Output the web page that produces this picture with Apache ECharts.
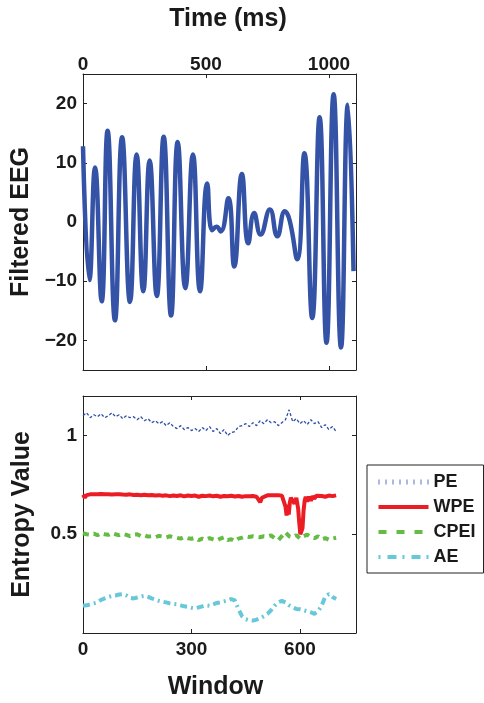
<!DOCTYPE html>
<html><head><meta charset="utf-8">
<script src="https://cdn.jsdelivr.net/npm/echarts@6/dist/echarts.min.js"></script>
<style>html,body{margin:0;padding:0;background:#fff}#c{width:484px;height:703px}</style>
</head><body><div id="c"></div>
<script>
// ---- Top panel: filtered EEG (extrema) ----
const eegTimeMs = [0,26,49,76,100,130,159,191,218,245,271,300,328,358,385,416,447,476,505,525,543,560,591,615,646,672,696,722,760,790,821,840,871,900,932,962,990,1019,1049,1077,1100];
const eegValue  = [12.8,-9.8,9.2,-13.4,15.4,-16.6,14.3,-13.5,11.4,-11.7,10.4,-12.5,14.4,-15.8,13.5,-11.2,11.4,-11.7,6.5,-1.4,-0.8,-1.6,4.0,-7.5,8.1,-3.6,1.5,-2.1,2.1,-2.4,1.8,0.3,-6.3,11.6,-16.2,17.7,-20.4,21.6,-21.2,19.8,-8.3];
const timeTicks = [0,500,1000];
const eegTicks = [-20,-10,0,10,20];

// ---- Bottom panel: entropy values per window ----
const windows = Array.from({length:71},(_,i)=>i*10);
const peValue = [1.10,1.115,1.09,1.105,1.095,1.11,1.09,1.10,1.115,1.095,1.105,1.085,1.10,1.09,1.095,1.08,1.095,1.075,1.085,1.065,1.075,1.06,1.07,1.05,1.065,1.045,1.035,1.05,1.03,1.04,1.025,1.035,1.02,1.04,1.025,1.045,1.02,1.035,1.01,1.03,1.0,1.015,1.02,1.045,1.05,1.06,1.045,1.065,1.05,1.075,1.06,1.08,1.065,1.07,1.05,1.065,1.08,1.13,1.07,1.085,1.06,1.075,1.055,1.08,1.06,1.07,1.04,1.055,1.03,1.045,1.02];
const cpeiValue = [0.505,0.50,0.498,0.503,0.495,0.505,0.50,0.497,0.506,0.50,0.495,0.502,0.497,0.49,0.498,0.50,0.49,0.495,0.488,0.49,0.485,0.492,0.488,0.484,0.49,0.485,0.482,0.478,0.486,0.48,0.477,0.482,0.47,0.478,0.472,0.48,0.474,0.468,0.478,0.485,0.47,0.475,0.465,0.478,0.483,0.49,0.486,0.49,0.488,0.485,0.49,0.488,0.494,0.48,0.47,0.49,0.51,0.49,0.485,0.495,0.478,0.49,0.498,0.486,0.48,0.49,0.475,0.48,0.472,0.478,0.482];
const aeValue = [0.138,0.14,0.145,0.15,0.155,0.168,0.175,0.182,0.188,0.19,0.195,0.197,0.19,0.178,0.175,0.18,0.185,0.188,0.183,0.175,0.17,0.163,0.158,0.155,0.15,0.147,0.145,0.14,0.135,0.133,0.128,0.125,0.13,0.135,0.14,0.138,0.145,0.152,0.155,0.16,0.165,0.172,0.165,0.12,0.085,0.07,0.064,0.063,0.068,0.075,0.085,0.097,0.115,0.138,0.155,0.163,0.155,0.14,0.13,0.122,0.12,0.115,0.11,0.105,0.097,0.11,0.138,0.185,0.197,0.182,0.172];
const wpeWindow = [0,5,10,20,30,40,50,60,70,80,90,100,110,120,130,140,150,160,170,180,190,200,210,220,230,240,250,260,270,280,290,300,310,320,330,340,350,360,370,380,390,400,410,420,430,440,450,460,470,480,485,490,495,500,510,520,530,540,550,555,560,563,566,569,572,575,580,585,590,595,598,601,604,607,610,613,616,620,625,630,635,640,645,650,660,670,680,690,700];
const wpeValue = [0.700,0.685,0.698,0.702,0.703,0.702,0.704,0.702,0.703,0.701,0.702,0.703,0.701,0.700,0.702,0.699,0.700,0.698,0.700,0.697,0.699,0.696,0.698,0.695,0.697,0.693,0.696,0.694,0.697,0.692,0.696,0.694,0.696,0.690,0.695,0.693,0.696,0.692,0.695,0.690,0.694,0.692,0.695,0.691,0.694,0.690,0.693,0.692,0.694,0.690,0.680,0.662,0.685,0.695,0.697,0.698,0.697,0.698,0.695,0.690,0.640,0.595,0.650,0.600,0.660,0.685,0.690,0.655,0.685,0.630,0.560,0.500,0.490,0.530,0.620,0.670,0.690,0.665,0.690,0.670,0.692,0.680,0.695,0.685,0.694,0.690,0.696,0.693,0.697];
const windowTicks = [0,300,600];
const entropyTicks = [0.5,1];

const zip = (xs, ys) => xs.map((x,i)=>[x, ys[i]]);
const FONT = 'Liberation Sans, Arial, Helvetica, sans-serif';
const TXT = '#1a1a1a';
const minus = v => String(v).replace('-', '\u2212');
const axisLineS = {show:true, onZero:false, lineStyle:{color:'#222', width:1}};
function tick(vals){ return {show:true, inside:true, length:4, customValues:vals, lineStyle:{color:'#222'}}; }
function lab(vals, margin){ return {show:true, customValues:vals, margin:margin, color:TXT, fontSize:19, fontWeight:'bold', fontFamily:FONT, formatter:minus}; }
const nameS = (pad) => ({color:TXT, fontSize:25, fontWeight:'bold', fontFamily:FONT, padding:pad});
const noSym = {opacity:0};

const chart = echarts.init(document.getElementById('c'), null, {renderer:'canvas'});
chart.setOption({
  backgroundColor:'#fff',
  animation:false,
  grid:[
    {left:83, top:74, width:273, height:296},
    {left:83, top:396, width:273, height:237}
  ],
  xAxis:[
    {gridIndex:0, type:'value', position:'top', min:0, max:1110, axisLine:axisLineS, axisTick:tick(timeTicks), axisLabel:lab(timeTicks,0), splitLine:{show:false},
     name:'Time (ms)', nameLocation:'middle', nameGap:42, nameTextStyle:nameS([0,0,0,17])},
    {gridIndex:0, type:'value', position:'bottom', min:0, max:1110, axisLine:axisLineS, axisTick:tick(timeTicks), axisLabel:{show:false}, splitLine:{show:false}},
    {gridIndex:1, type:'value', position:'bottom', min:0, max:755, axisLine:axisLineS, axisTick:tick(windowTicks), axisLabel:lab(windowTicks,7), splitLine:{show:false},
     name:'Window', nameLocation:'middle', nameGap:42, nameTextStyle:nameS([0,8,0,0])},
    {gridIndex:1, type:'value', position:'top', min:0, max:755, axisLine:axisLineS, axisTick:tick(windowTicks), axisLabel:{show:false}, splitLine:{show:false}}
  ],
  yAxis:[
    {gridIndex:0, type:'value', position:'left', min:-25, max:25, axisLine:axisLineS, axisTick:tick(eegTicks), axisLabel:lab(eegTicks,6), splitLine:{show:false},
     name:'Filtered EEG', nameLocation:'middle', nameGap:48, nameTextStyle:nameS(0)},
    {gridIndex:0, type:'value', position:'right', min:-25, max:25, axisLine:axisLineS, axisTick:tick(eegTicks), axisLabel:{show:false}, splitLine:{show:false}},
    {gridIndex:1, type:'value', position:'left', min:0, max:1.2, axisLine:axisLineS, axisTick:tick(entropyTicks), axisLabel:lab(entropyTicks,6), splitLine:{show:false},
     name:'Entropy Value', nameLocation:'middle', nameGap:48, nameTextStyle:nameS(0)},
    {gridIndex:1, type:'value', position:'right', min:0, max:1.2, axisLine:axisLineS, axisTick:tick(entropyTicks), axisLabel:{show:false}, splitLine:{show:false}}
  ],
  legend:{
    orient:'vertical', left:367, top:465, itemWidth:50, itemHeight:14, itemGap:7,
    padding:[8,8,7,9], borderColor:'#222', borderWidth:1, backgroundColor:'#fff',
    textStyle:{color:TXT, fontSize:18, fontWeight:'bold', fontFamily:FONT, lineHeight:18},
    itemStyle:noSym,
    data:[
      {name:'PE', itemStyle:noSym, lineStyle:{width:5, type:[1,6], color:'#5a72bf'}},
      {name:'WPE', itemStyle:noSym, lineStyle:{width:4}},
      {name:'CPEI', itemStyle:noSym, lineStyle:{width:4, type:[8,10]}},
      {name:'AE', itemStyle:noSym, lineStyle:{width:4, type:[2,7,9,6]}}
    ]
  },
  series:[
    {name:'EEG', type:'line', xAxisIndex:0, yAxisIndex:0, data:zip(eegTimeMs, eegValue), smooth:0.5, symbol:'none',
     lineStyle:{color:'#3452a6', width:4.5}},
    {name:'PE', type:'line', xAxisIndex:2, yAxisIndex:2, data:zip(windows, peValue), symbol:'none',
     lineStyle:{color:'#2f4fa8', width:1.3, type:[3,2]}, itemStyle:{color:'#2f4fa8'}},
    {name:'WPE', type:'line', xAxisIndex:2, yAxisIndex:2, data:zip(wpeWindow, wpeValue), symbol:'none',
     lineStyle:{color:'#ec1c24', width:4}, itemStyle:{color:'#ec1c24'}},
    {name:'CPEI', type:'line', xAxisIndex:2, yAxisIndex:2, data:zip(windows, cpeiValue), symbol:'none',
     lineStyle:{color:'#66bb44', width:4, type:[6,5]}, itemStyle:{color:'#66bb44'}},
    {name:'AE', type:'line', xAxisIndex:2, yAxisIndex:2, data:zip(windows, aeValue), symbol:'none',
     lineStyle:{color:'#66c8d8', width:4, type:[7,4,2,4]}, itemStyle:{color:'#66c8d8'}}
  ]
});
</script></body></html>
